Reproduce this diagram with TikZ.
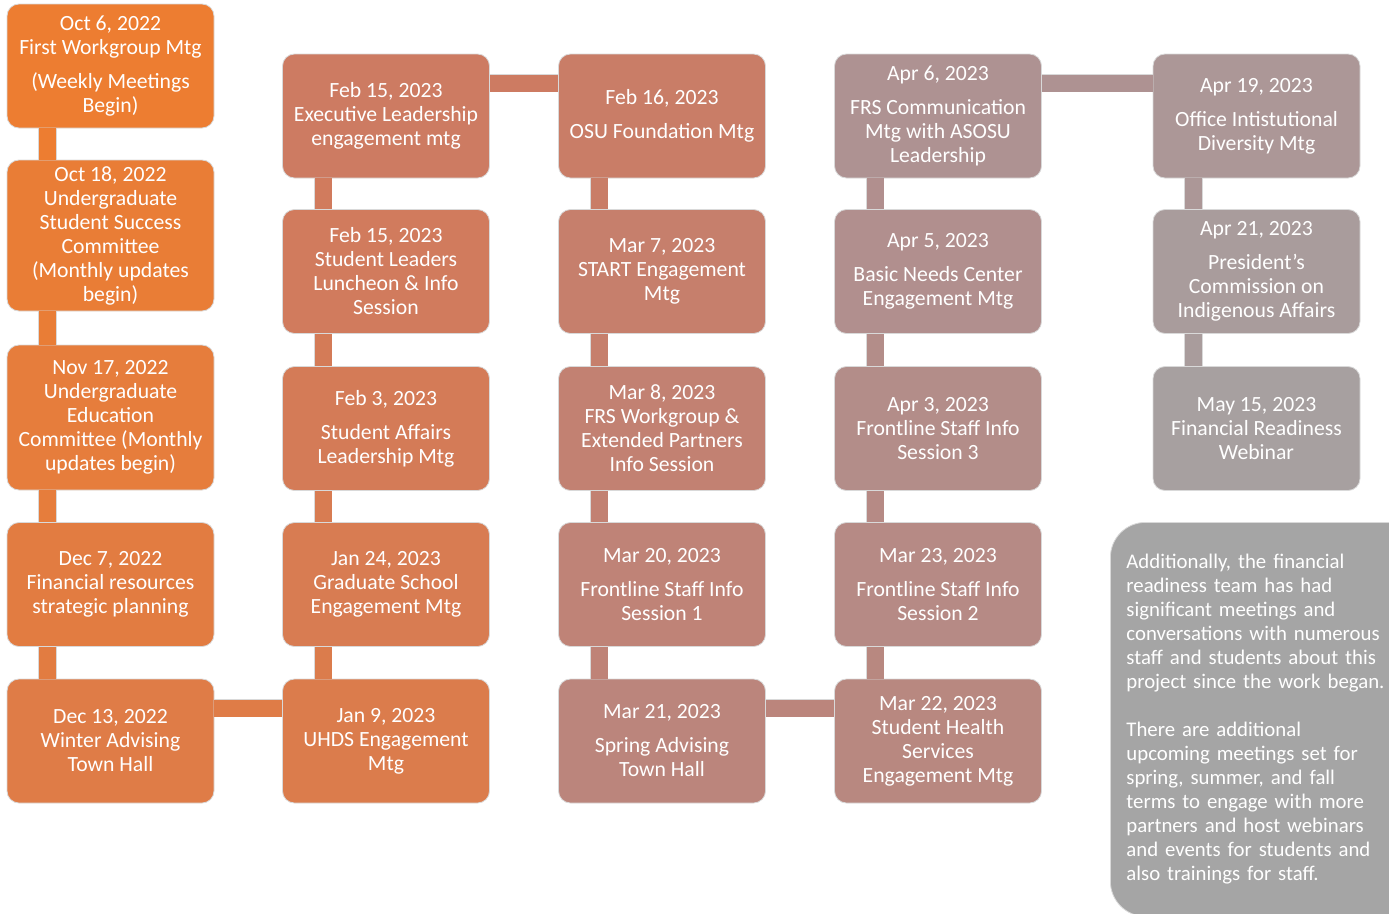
\documentclass[tikz,border=0pt]{standalone}
\usepackage{fontspec}
\setmainfont{Carlito}
\usetikzlibrary{positioning, calc}

\definecolor{cOrange}{HTML}{ED7D31}
\definecolor{cRust}{HTML}{CD7B62}
\definecolor{cRose}{HTML}{BB857C}
\definecolor{cMauve}{HTML}{AE9292}
\definecolor{cGrey}{HTML}{A5A5A5}

\tikzset{
	evt/.style={draw=gray!30, line width=0.8pt, fill=#1, rounded corners=12pt,
		text=white, align=center, minimum width=207pt, minimum height=124pt,
		inner sep=0pt, font=\fontsize{21.7}{24}\selectfont},
	link/.style={draw=gray!30, line width=0.8pt, double=#1, double distance=17pt},
}

\begin{document}
\begin{tikzpicture}[x=1pt, y=-1pt]
	\useasboundingbox (0,0) rectangle (1389,913);
	\clip (0,0) rectangle (1389,913);
	
	% Prima colonna (ottobre - dicembre)
	\node[evt=cOrange] (oct6) at (110.5,66) {Oct 6, 2022\\First Workgroup Mtg\\[10pt](Weekly Meetings\\Begin)};
	\node[evt=cRust!11!cOrange, minimum height=151pt] (oct18) at (110.5,235.5) {Oct 18, 2022\\Undergraduate\\Student Success\\Committee\\(Monthly updates\\begin)};
	\node[evt=cRust!22!cOrange, minimum height=145pt] (nov17) at (110.5,417.5) {Nov 17, 2022\\Undergraduate\\Education\\Committee (Monthly\\updates begin)};
	\node[evt=cRust!33!cOrange] (dec7) at (110.5,584.5) {Dec 7, 2022\\Financial resources\\strategic planning};
	\node[evt=cRust!44!cOrange] (dec13) at (110.5,741) {Dec 13, 2022\\Winter Advising\\Town Hall};
	
	% Seconda colonna (dal basso verso l'alto)
	\node[evt=cRust!56!cOrange] (jan9) at (386,741) {Jan 9, 2023\\UHDS Engagement\\Mtg};
	\node[evt=cRust!67!cOrange] (jan24) at (386,584.5) {Jan 24, 2023\\Graduate School\\Engagement Mtg};
	\node[evt=cRust!78!cOrange] (feb3) at (386,428.5) {Feb 3, 2023\\[10pt]Student Affairs\\Leadership Mtg};
	\node[evt=cRust!89!cOrange] (feb15s) at (386,271.5) {Feb 15, 2023\\Student Leaders\\Luncheon \& Info\\Session};
	\node[evt=cRust] (feb15e) at (386,116) {Feb 15, 2023\\Executive Leadership\\engagement mtg};
	
	% Terza colonna
	\node[evt=cRose!20!cRust] (feb16) at (662,116) {Feb 16, 2023\\[10pt]OSU Foundation Mtg};
	\node[evt=cRose!40!cRust] (mar7) at (662,271.5) {Mar 7, 2023\\START Engagement\\Mtg};
	\node[evt=cRose!60!cRust] (mar8) at (662,428.5) {Mar 8, 2023\\FRS Workgroup \&\\Extended Partners\\Info Session};
	\node[evt=cRose!80!cRust] (mar20) at (662,584.5) {Mar 20, 2023\\[10pt]Frontline Staff Info\\Session 1};
	\node[evt=cRose] (mar21) at (662,741) {Mar 21, 2023\\[10pt]Spring Advising\\Town Hall};
	
	% Quarta colonna (dal basso verso l'alto)
	\node[evt=cMauve!20!cRose] (mar22) at (938,741) {Mar 22, 2023\\Student Health\\Services\\Engagement Mtg};
	\node[evt=cMauve!40!cRose] (mar23) at (938,584.5) {Mar 23, 2023\\[10pt]Frontline Staff Info\\Session 2};
	\node[evt=cMauve!60!cRose] (apr3) at (938,428.5) {Apr 3, 2023\\Frontline Staff Info\\Session 3};
	\node[evt=cMauve!80!cRose] (apr5) at (938,271.5) {Apr 5, 2023\\[10pt]Basic Needs Center\\Engagement Mtg};
	\node[evt=cMauve] (apr6) at (938,116) {Apr 6, 2023\\[10pt]FRS Communication\\Mtg with ASOSU\\Leadership};
	
	% Quinta colonna
	\node[evt=cGrey!25!cMauve] (apr19) at (1256.5,116) {Apr 19, 2023\\[10pt]Office Intistutional\\Diversity Mtg};
	\node[evt=cGrey!50!cMauve] (apr21) at (1256.5,271.5) {Apr 21, 2023\\[10pt]President's\\Commission on\\Indigenous Affairs};
	\node[evt=cGrey!75!cMauve] (may15) at (1256.5,428.5) {May 15, 2023\\Financial Readiness\\Webinar};
	
	% Riquadro finale
	\node[evt=cGrey, anchor=north west, align=left, text width=278pt,
		minimum width=310pt, minimum height=394pt, inner xsep=16pt,
		rounded corners=35pt, font=\fontsize{20.8}{24}\selectfont] (extra) at (1110,522)
		{Additionally, the financial\\readiness team has had\\significant meetings and\\conversations with numerous\\staff and students about this\\project since the work began.\\[24pt]There are additional\\upcoming meetings set for\\spring, summer, and fall\\terms to engage with more\\partners and host webinars\\and events for students and\\also trainings for staff.};
	
	% Collegamenti verticali
	\draw[link=cOrange] ($(oct6.south west)+(41,0)$) -- ($(oct18.north west)+(41,0)$);
	\draw[link=cRust!11!cOrange] ($(oct18.south west)+(41,0)$) -- ($(nov17.north west)+(41,0)$);
	\draw[link=cRust!22!cOrange] ($(nov17.south west)+(41,0)$) -- ($(dec7.north west)+(41,0)$);
	\draw[link=cRust!33!cOrange] ($(dec7.south west)+(41,0)$) -- ($(dec13.north west)+(41,0)$);
	\draw[link=cRust!56!cOrange] ($(jan9.north west)+(41,0)$) -- ($(jan24.south west)+(41,0)$);
	\draw[link=cRust!67!cOrange] ($(jan24.north west)+(41,0)$) -- ($(feb3.south west)+(41,0)$);
	\draw[link=cRust!78!cOrange] ($(feb3.north west)+(41,0)$) -- ($(feb15s.south west)+(41,0)$);
	\draw[link=cRust!89!cOrange] ($(feb15s.north west)+(41,0)$) -- ($(feb15e.south west)+(41,0)$);
	\draw[link=cRose!20!cRust] ($(feb16.south west)+(41,0)$) -- ($(mar7.north west)+(41,0)$);
	\draw[link=cRose!40!cRust] ($(mar7.south west)+(41,0)$) -- ($(mar8.north west)+(41,0)$);
	\draw[link=cRose!60!cRust] ($(mar8.south west)+(41,0)$) -- ($(mar20.north west)+(41,0)$);
	\draw[link=cRose!80!cRust] ($(mar20.south west)+(41,0)$) -- ($(mar21.north west)+(41,0)$);
	\draw[link=cMauve!20!cRose] ($(mar22.north west)+(41,0)$) -- ($(mar23.south west)+(41,0)$);
	\draw[link=cMauve!40!cRose] ($(mar23.north west)+(41,0)$) -- ($(apr3.south west)+(41,0)$);
	\draw[link=cMauve!60!cRose] ($(apr3.north west)+(41,0)$) -- ($(apr5.south west)+(41,0)$);
	\draw[link=cMauve!80!cRose] ($(apr5.north west)+(41,0)$) -- ($(apr6.south west)+(41,0)$);
	\draw[link=cGrey!25!cMauve] ($(apr19.south west)+(41,0)$) -- ($(apr21.north west)+(41,0)$);
	\draw[link=cGrey!50!cMauve] ($(apr21.south west)+(41,0)$) -- ($(may15.north west)+(41,0)$);
	\draw[link=cGrey!75!cMauve] ($(may15.south west)+(41,0)$) -- ($(may15.south west)+(41,0)$ |- extra.north);
	
	% Collegamenti orizzontali
	\draw[link=cRust!44!cOrange] ($(dec13.north east)+(0,29.5)$) -- ($(jan9.north west)+(0,29.5)$);
	\draw[link=cRust] ($(feb15e.north east)+(0,29.5)$) -- ($(feb16.north west)+(0,29.5)$);
	\draw[link=cRose] ($(mar21.north east)+(0,29.5)$) -- ($(mar22.north west)+(0,29.5)$);
	\draw[link=cMauve] ($(apr6.north east)+(0,29.5)$) -- ($(apr19.north west)+(0,29.5)$);
\end{tikzpicture}
\end{document}
